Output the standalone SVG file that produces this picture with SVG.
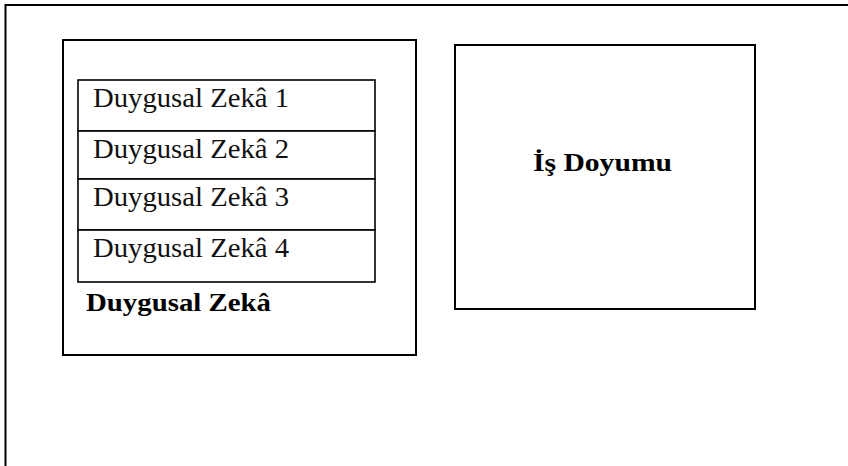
<svg xmlns="http://www.w3.org/2000/svg" width="848" height="466" viewBox="0 0 848 466">
<style>
.frame{fill:none;stroke:#000;stroke-width:2}
.box{fill:#fff;stroke:#000;stroke-width:2}
.row{fill:#fff;stroke:#000;stroke-width:1.6}
.t{font-family:"Liberation Serif","Times New Roman",serif;font-size:27px;fill:#111}
.b{font-family:"Liberation Serif","Times New Roman",serif;font-size:26px;font-weight:bold;fill:#000}
</style>
<rect width="848" height="466" fill="#fff"/>
<path class="frame" d="M5.5,466 V5 H848"/>
<g id="duygusal-zeka">
<rect class="box" x="63" y="40" width="353" height="315"/>
<g id="dz1"><rect class="row" x="78" y="80" width="297" height="51"/><text class="t" x="93" y="107" textLength="196" lengthAdjust="spacingAndGlyphs">Duygusal Zekâ 1</text></g>
<g id="dz2"><rect class="row" x="78" y="131" width="297" height="48"/><text class="t" x="93" y="158" textLength="196" lengthAdjust="spacingAndGlyphs">Duygusal Zekâ 2</text></g>
<g id="dz3"><rect class="row" x="78" y="179" width="297" height="51"/><text class="t" x="93" y="206" textLength="196" lengthAdjust="spacingAndGlyphs">Duygusal Zekâ 3</text></g>
<g id="dz4"><rect class="row" x="78" y="230" width="297" height="52"/><text class="t" x="93" y="257" textLength="196" lengthAdjust="spacingAndGlyphs">Duygusal Zekâ 4</text></g>
<text class="b" x="86" y="311" textLength="185" lengthAdjust="spacingAndGlyphs">Duygusal Zekâ</text>
</g>
<g id="is-doyumu">
<rect class="box" x="455" y="45" width="300" height="264"/>
<text class="b" x="533" y="171" textLength="139" lengthAdjust="spacingAndGlyphs">İş Doyumu</text>
</g>
<g id="connectors"/>
</svg>
